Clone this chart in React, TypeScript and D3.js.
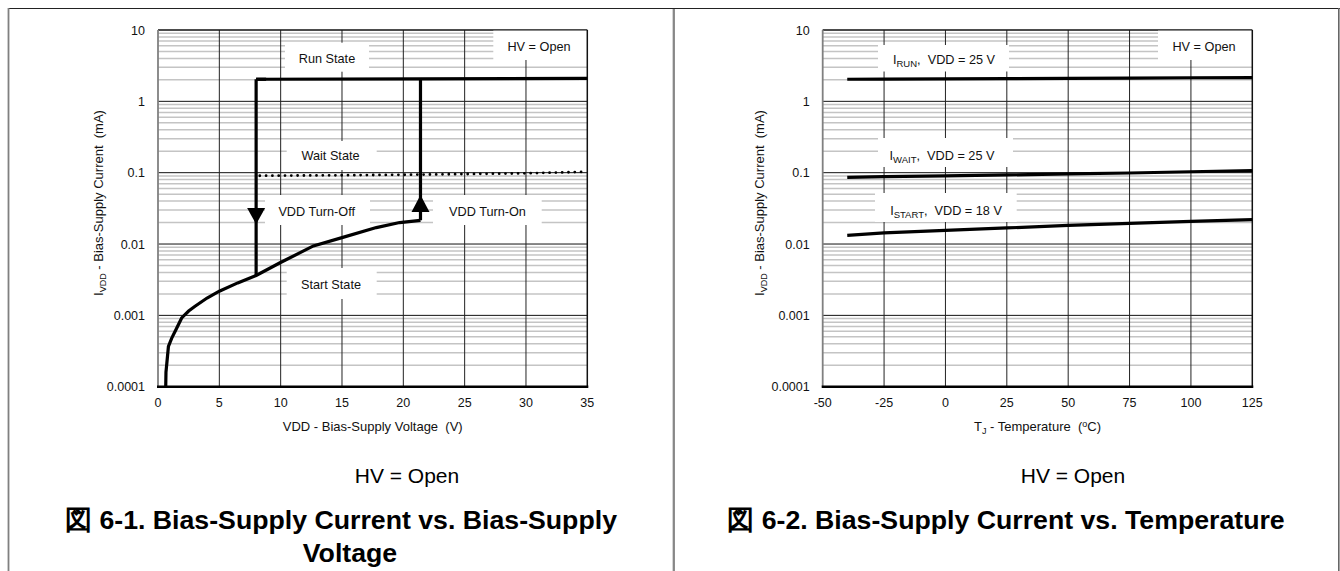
import * as d3 from 'd3';

const FONT = '"Liberation Sans", Arial, Helvetica, sans-serif';

// ---- fig 6-1 : IDD vs VDD (HV open) ----
const startVdd = [0.63, 0.65, 0.72, 0.85, 1.12, 1.5, 1.93, 2.5, 3.02, 4, 5, 6.5, 8, 9.95, 12.67, 15, 17.8, 19.7, 21.4];
const startIdd = [0.0001, 0.00016, 0.000213, 0.000366, 0.00048, 0.00065, 0.00092, 0.00115, 0.00134, 0.00175, 0.00218, 0.00285, 0.00362, 0.00546, 0.0094, 0.0123, 0.017, 0.02, 0.0215];
const runVdd = [8, 21.4, 35];
const runIdd = [2.04, 2.07, 2.1];
const waitVdd = [8.3, 15, 21.4, 30, 35];
const waitIdd = [0.0906, 0.092, 0.094, 0.098, 0.103];
const turnOffVdd = 8;
const turnOffIdd = [2.04, 0.00362];
const turnOnVdd = 21.4;
const turnOnIdd = [0.0215, 2.07];
const arrowOffIdd = [0.032, 0.019]; // base, tip
const arrowOnIdd = [0.028, 0.0485];

const voltTicks = [0, 5, 10, 15, 20, 25, 30, 35];
const currentTicks = [0.0001, 0.001, 0.01, 0.1, 1, 10];
const currentTickLabels = ['0.0001', '0.001', '0.01', '0.1', '1', '10'];

// ---- fig 6-2 : IDD vs TJ ----
const tempC = [-40, -25, 0, 25, 50, 75, 100, 125];
const iRun = [2.04, 2.05, 2.06, 2.08, 2.1, 2.12, 2.14, 2.15];
const iWait = [0.086, 0.088, 0.09, 0.093, 0.096, 0.099, 0.103, 0.107];
const iStart = [0.0132, 0.0143, 0.0155, 0.0168, 0.0182, 0.0195, 0.0208, 0.022];
const tempTicks = [-50, -25, 0, 25, 50, 75, 100, 125];

const TOP = 30;
const BOTTOM = 386.7;

function Grid({ x, y, xTicks }: any) {
  const [x0, x1] = x.range();
  const minors: number[] = [];
  currentTicks.slice(0, -1).forEach((d) => {
    for (let k = 2; k <= 9; k++) minors.push(d * k);
  });
  return (
    <g>
      {minors.map((v, i) => (
        <line key={'m' + i} x1={x0} x2={x1} y1={y(v)} y2={y(v)} stroke="#c4c4c4" strokeWidth={1.5} />
      ))}
      {currentTicks.map((v, i) => (
        <line key={'h' + i} x1={x0} x2={x1} y1={y(v)} y2={y(v)} stroke="#111" strokeWidth={1} />
      ))}
      {xTicks.slice(1, -1).map((v: number, i: number) => (
        <line key={'v' + i} x1={x(v)} x2={x(v)} y1={TOP} y2={BOTTOM} stroke="#222" strokeWidth={1} />
      ))}
    </g>
  );
}

function Frame({ x, y, xTicks }: any) {
  const [x0, x1] = x.range();
  return (
    <g>
      <line x1={x0} x2={x1} y1={TOP} y2={TOP} stroke="#111" strokeWidth={1} />
      <line x1={x1} x2={x1} y1={TOP} y2={BOTTOM} stroke="#111" strokeWidth={1.5} />
      <line x1={x0} x2={x0} y1={TOP} y2={BOTTOM} stroke="#808080" strokeWidth={1.8} />
      <line x1={x0 - 1} x2={x1 + 1} y1={BOTTOM} y2={BOTTOM} stroke="#000" strokeWidth={2.5} />
      {currentTicks.map((v, i) => (
        <text key={'yt' + i} x={x0 - 13} y={y(v) + 4.5} textAnchor="end" fontSize={12.5} fontFamily={FONT} fill="#111">
          {currentTickLabels[i]}
        </text>
      ))}
      {xTicks.map((v: number, i: number) => (
        <text key={'xt' + i} x={x(v)} y={406.8} textAnchor="middle" fontSize={12.5} fontFamily={FONT} fill="#111">
          {v}
        </text>
      ))}
    </g>
  );
}

function Box({ b }: any) {
  return <rect x={b[0]} y={b[1]} width={b[2] - b[0]} height={b[3] - b[1]} fill="#fff" />;
}

function Label({ cx, cy, children }: any) {
  return (
    <text x={cx} y={cy + 4.5} textAnchor="middle" fontSize={12.7} fontFamily={FONT} fill="#111" style={{ whiteSpace: 'pre' }}>
      {children}
    </text>
  );
}

function YTitle({ cx }: any) {
  return (
    <text transform={`translate(${cx},203) rotate(-90)`} textAnchor="middle" fontSize={13} fontFamily={FONT} fill="#111" style={{ whiteSpace: 'pre' }}>
      I<tspan fontSize={9} dy={3}>VDD</tspan>
      <tspan dy={-3}>{' - Bias-Supply Current  (mA)'}</tspan>
    </text>
  );
}

export default function App() {
  const xV = d3.scaleLinear().domain([0, 35]).range([158, 587.3]);
  const xT = d3.scaleLinear().domain([-50, 125]).range([822.7, 1252.3]);
  const yL = d3.scaleLog().domain([0.0001, 10]).range([BOTTOM, TOP]);

  const pathFrom = (xs: number[], ys: number[], xs_: any) =>
    d3.line<number>().x((_, i) => xs_(xs[i])).y((d) => yL(d))(ys) as string;

  const startPath = pathFrom(startVdd, startIdd, xV);
  const runPath = pathFrom(runVdd, runIdd, xV);
  const waitPath = pathFrom(waitVdd, waitIdd, xV);
  const offPath = pathFrom([turnOffVdd, turnOffVdd], turnOffIdd, xV);
  const onPath = pathFrom([turnOnVdd, turnOnVdd], turnOnIdd, xV);

  const arrow = (vx: number, ids: number[]) => {
    const cx = xV(vx);
    const yb = yL(ids[0]);
    const yt = yL(ids[1]);
    return `${cx - 9},${yb} ${cx + 9},${yb} ${cx},${yt}`;
  };

  const runT = pathFrom(tempC, iRun, xT);
  const waitT = pathFrom(tempC, iWait, xT);
  const startT = pathFrom(tempC, iStart, xT);

  const curve = { fill: 'none', stroke: '#000', strokeWidth: 3.2, strokeLinejoin: 'miter' as const };
  const sub = 9.5;

  return (
    <svg width={1340} height={571} style={{ position: 'absolute', left: 0, top: 0, background: '#fff' }}>
      <rect x={0} y={0} width={1340} height={571} fill="#fff" />
      {/* table frame */}
      <line x1={8} x2={1340} y1={8.5} y2={8.5} stroke="#222" strokeWidth={1.2} />
      <line x1={8.5} x2={8.5} y1={8} y2={571} stroke="#808080" strokeWidth={1.8} />
      <line x1={673.8} x2={673.8} y1={9} y2={571} stroke="#888" strokeWidth={2.3} />
      <line x1={1338.8} x2={1338.8} y1={8} y2={571} stroke="#666" strokeWidth={1.6} />

      {/* ---------- left chart ---------- */}
      <Grid x={xV} y={yL} xTicks={voltTicks} />
      <Box b={[285, 42.7, 369, 71.7]} />
      <Box b={[286.7, 141, 376.7, 170]} />
      <Box b={[265, 195, 370, 225]} />
      <Box b={[286.7, 268, 376.7, 299]} />
      <Box b={[433, 195, 541.7, 225]} />
      <Box b={[493.3, 30, 587.3, 60]} />
      <Label cx={327} cy={58}>Run State</Label>
      <Label cx={330.5} cy={155}>Wait State</Label>
      <Label cx={316.7} cy={211}>VDD Turn-Off</Label>
      <Label cx={331} cy={284.5}>Start State</Label>
      <Label cx={487.5} cy={211}>VDD Turn-On</Label>
      <Label cx={539} cy={46}>HV = Open</Label>
      <Frame x={xV} y={yL} xTicks={voltTicks} />
      <path d={waitPath} fill="none" stroke="#000" strokeWidth={2.8} strokeDasharray="0 6.3" strokeLinecap="round" />
      <path d={startPath} {...curve} />
      <path d={runPath} {...curve} />
      <path d={offPath} {...curve} />
      <path d={onPath} {...curve} />
      <path d={`M${xV(turnOffVdd)},${yL(turnOffIdd[0])}H${xV(turnOffVdd) + 10}`} {...curve} />
      <polygon points={arrow(turnOffVdd, arrowOffIdd)} fill="#000" />
      <polygon points={arrow(turnOnVdd, arrowOnIdd)} fill="#000" />
      <YTitle cx={103} />
      <text x={372.7} y={430.5} textAnchor="middle" fontSize={13} fontFamily={FONT} fill="#111" style={{ whiteSpace: 'pre' }}>
        {'VDD - Bias-Supply Voltage  (V)'}
      </text>
      <text x={407} y={482.5} textAnchor="middle" fontSize={21} fontFamily={FONT} fill="#000">HV = Open</text>
      <text x={341} y={529} textAnchor="middle" fontSize={26.7} fontWeight="bold" fontFamily={FONT} fill="#000">
        図 6-1. Bias-Supply Current vs. Bias-Supply
      </text>
      <text x={350} y={562} textAnchor="middle" fontSize={26.7} fontWeight="bold" fontFamily={FONT} fill="#000">
        Voltage
      </text>

      {/* ---------- right chart ---------- */}
      <Grid x={xT} y={yL} xTicks={tempTicks} />
      <Box b={[878, 45, 1009, 71.5]} />
      <Box b={[878, 138, 1013, 167]} />
      <Box b={[875, 193, 1016.7, 222]} />
      <Box b={[1158, 30, 1252.3, 60]} />
      <Label cx={944} cy={59}>
        I<tspan fontSize={sub} dy={3}>RUN</tspan>
        <tspan dy={-3}>{',  VDD = 25 V'}</tspan>
      </Label>
      <Label cx={942} cy={155}>
        I<tspan fontSize={sub} dy={3}>WAIT</tspan>
        <tspan dy={-3}>{',  VDD = 25 V'}</tspan>
      </Label>
      <Label cx={946} cy={210.5}>
        I<tspan fontSize={sub} dy={3}>START</tspan>
        <tspan dy={-3}>{',  VDD = 18 V'}</tspan>
      </Label>
      <Label cx={1204} cy={46}>HV = Open</Label>
      <Frame x={xT} y={yL} xTicks={tempTicks} />
      <path d={runT} {...curve} />
      <path d={waitT} {...curve} />
      <path d={startT} {...curve} />
      <YTitle cx={764} />
      <text x={1037.5} y={430.5} textAnchor="middle" fontSize={13} fontFamily={FONT} fill="#111" style={{ whiteSpace: 'pre' }}>
        T<tspan fontSize={9} dy={3}>J</tspan>
        <tspan dy={-3}>{' - Temperature  ('}</tspan>
        <tspan fontSize={9} dy={-4}>o</tspan>
        <tspan dy={4}>C)</tspan>
      </text>
      <text x={1073} y={482.5} textAnchor="middle" fontSize={21} fontFamily={FONT} fill="#000">HV = Open</text>
      <text x={1006} y={529} textAnchor="middle" fontSize={26.7} fontWeight="bold" fontFamily={FONT} fill="#000">
        図 6-2. Bias-Supply Current vs. Temperature
      </text>
    </svg>
  );
}
